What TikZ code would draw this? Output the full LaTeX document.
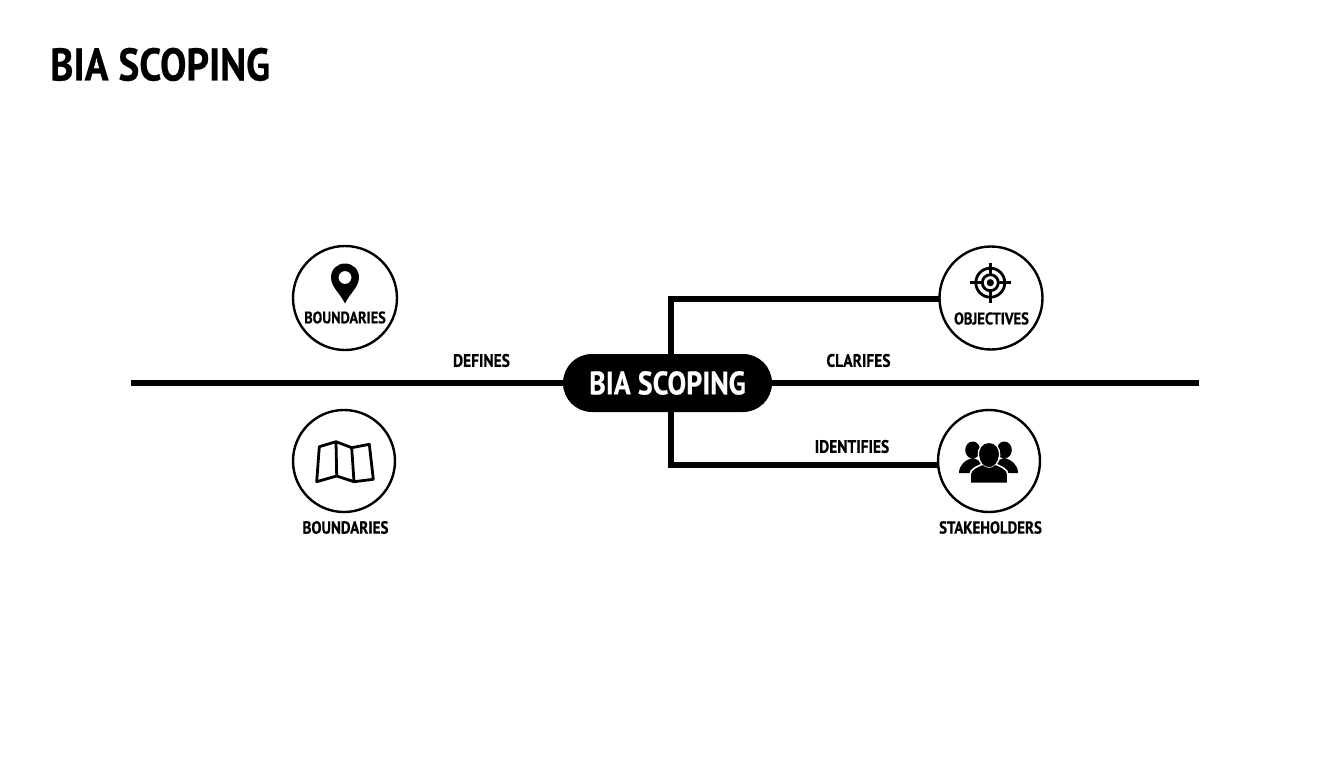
\documentclass[tikz,border=0pt]{standalone}
\usepackage{fontspec}
\usetikzlibrary{backgrounds}
\setmainfont{PT Sans}[BoldFont={PT Sans Bold}]
\newfontfamily\narrowfont{PT Sans Bold}[FakeStretch=0.86,FakeBold=0.5]
\newcommand{\lblsize}[1]{\fontsize{#1}{#1}\selectfont}
\begin{document}
\begin{tikzpicture}[x=1pt,y=-1pt,
  lbl/.style={font=\narrowfont\lblsize{16.6},text=black,inner sep=0pt,anchor=center},
  edgelbl/.style={font=\narrowfont\lblsize{18},text=black,inner sep=0pt,anchor=center},
  ring/.style={circle,draw=black,line width=2.4pt,fill=white,inner sep=0pt},
  hubpill/.style={inner sep=0pt,minimum width=209pt,minimum height=58pt,rounded corners=28.9pt,fill=black,text=white,font=\narrowfont\lblsize{32.6}},
  wire/.style={draw=black,line width=5.5pt,line join=miter},
  icon/.style={draw=black,line width=2.8pt,line join=round}]
\useasboundingbox (0,0) rectangle (1344,768);
\coordinate (leftend) at (131,383);
\coordinate (rightend) at (1199,383);
\coordinate (elbowtop) at (671,299);
\coordinate (elbowbot) at (671,465);
\coordinate (c3in) at (945,299);
\coordinate (c4in) at (945,465);
\node[ring,minimum size=104pt] (c1) at (345,298) {};
\node[ring,minimum size=102pt] (c2) at (344,461) {};
\node[ring,minimum size=103pt] (c3) at (991,298) {};
\node[ring,minimum size=102pt] (c4) at (989,461) {};
\node[hubpill] (hub) at (667.5,383) {BIA SCOPING};
\begin{scope}[on background layer]
\fill[white] (0,0) rectangle (1344,768);
\draw[wire] (leftend) -- (hub);
\draw[wire] (hub) -- (rightend);
\draw[wire] (c3in) -- (elbowtop) -- (elbowbot) -- (c4in);
\end{scope}
\node[anchor=base west,inner sep=0pt,font=\narrowfont\lblsize{45.8}] (title) at (50,80.5) {BIA SCOPING};
\node[lbl] (l1) at (345,317.5) {BOUNDARIES};
\node[lbl,font=\narrowfont\lblsize{17.5}] (l2) at (345.5,527.5) {BOUNDARIES};
\node[lbl,font=\narrowfont\lblsize{16.9}] (l3) at (991.5,318.5) {OBJECTIVES};
\node[lbl,font=\narrowfont\lblsize{17.3}] (l4) at (990.5,527.5) {STAKEHOLDERS};
\node[edgelbl] (e1) at (481.5,360.5) {DEFINES};
\node[edgelbl] (e2) at (858.5,360.5) {CLARIFES};
\node[edgelbl] (e3) at (852,446.5) {IDENTIFIES};
% pin
\fill[black,even odd rule] (345,303.5) .. controls (340,293) and (331,287) .. (331,277.5)
  .. controls (331,269) and (337.5,263.5) .. (345,263.5)
  .. controls (352.5,263.5) and (359,269) .. (359,277.5)
  .. controls (359,287) and (350,293) .. (345,303.5) -- cycle
  (345,277.5) circle (6.5);
% map
\draw[icon] (316.7,481.7) -- (319.3,446.7) -- (336,441.7) -- (351.7,447.7) -- (369.3,444.3) -- (373.3,479.3) -- (354,481.7) -- (336.7,476) -- cycle;
\draw[icon] (336,441.7) -- (336.7,476) (351.7,447.7) -- (354,481.7);
% target
\draw[icon] (990.3,282.7) circle (14.5) (990.3,282.7) circle (8);
\fill[black] (990.3,282.7) circle (3.6);
\draw[icon,line cap=butt] (970,282.7) -- (982,282.7) (998.6,282.7) -- (1011,282.7)
  (990.3,262.5) -- (990.3,274.5) (990.3,291) -- (990.3,303);
% people
\fill[black] (972.7,450) ellipse (7.5 and 8.5) (1004.3,450) ellipse (7.5 and 8.5);
\fill[black] (959,473) .. controls (959,465) and (965,460) .. (972.7,458)
  .. controls (980,460) and (986,465) .. (986,473) -- cycle;
\fill[black] (992,473) .. controls (992,465) and (997,460) .. (1004.3,458)
  .. controls (1012,460) and (1018,465) .. (1018,473) -- cycle;
\fill[black,draw=white,line width=1.6pt] (989,442.5) .. controls (996,442.5) and (1000,449) .. (999.5,455)
  .. controls (999,463) and (994,468) .. (989,468)
  .. controls (984,468) and (979,463) .. (978.5,455)
  .. controls (978,449) and (982,442.5) .. (989,442.5) -- cycle;
\fill[black,draw=white,line width=1.6pt] (970,483.5) -- (970,475) .. controls (970,469) and (977,466.5) .. (983,464)
  .. controls (986,468) and (992,468) .. (995,464)
  .. controls (1001,466.5) and (1008,469) .. (1008,475) -- (1008,483.5) -- cycle;
\fill[black] (989,443.3) .. controls (996,443.3) and (999.2,449) .. (998.7,455)
  .. controls (998.2,462) and (994,467.2) .. (989,467.2)
  .. controls (984,467.2) and (979.8,462) .. (979.3,455)
  .. controls (978.8,449) and (982,443.3) .. (989,443.3) -- cycle;
\end{tikzpicture}
\end{document}
